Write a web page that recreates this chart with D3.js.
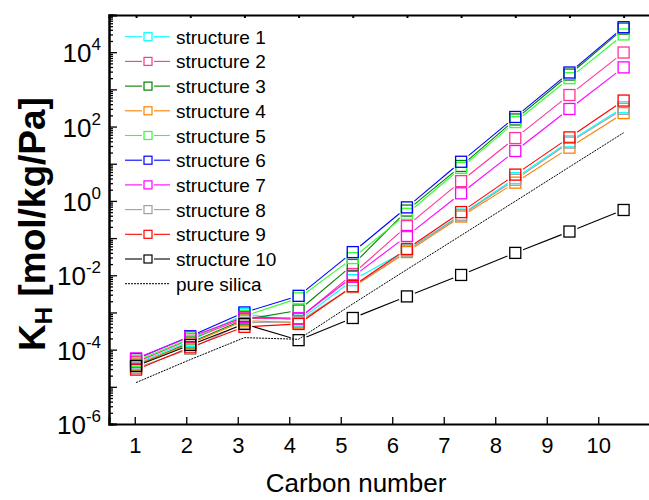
<!DOCTYPE html>
<html>
<head>
<meta charset="utf-8">
<script src="https://cdn.jsdelivr.net/npm/d3@7/dist/d3.min.js"></script>
<style>
  html, body { margin: 0; padding: 0; background: #fff; }
  svg { display: block; font-family: Arial, "Liberation Sans", sans-serif; }
</style>
</head>
<body>
<svg id="chart" width="649" height="500"></svg>
<script>
// ---------- data ----------
const categories = [1, 2, 3, 4, 5, 6, 7, 8, 9, 10];
const xTickLabels = ["1", "2", "3", "4", "5", "6", "7", "8", "9", "10"];
const yLabelExponents = [-6, -4, -2, 0, 2, 4];
const seriesNames = ["structure 1", "structure 2", "structure 3", "structure 4", "structure 5",
                     "structure 6", "structure 7", "structure 8", "structure 9", "structure 10"];
const seriesColors = ["#00ffff", "#ff3399", "#008000", "#ff8000", "#33ff33",
                      "#0000ff", "#ff00ff", "#a0a0a0", "#ff0000", "#000000"];
const structure1  = [4.2e-5, 1.7e-4, 9.0e-4, 6.0e-4, 7.4e-3, 0.047, 0.43, 4.1, 40, 330];
const structure2  = [4.6e-5, 1.9e-4, 7.0e-4, 6.7e-4, 1.08e-2, 0.21, 3.4, 49, 705, 9.8e3];
const structure3  = [3.8e-5, 1.55e-4, 6.5e-4, 1.13e-3, 1.9e-2, 0.55, 8.7, 155, 2.5e3, 4.3e4];
const structure4  = [4.0e-5, 1.45e-4, 6.0e-4, 5.3e-4, 4.8e-3, 0.042, 0.38, 3.1, 27, 230];
const structure5  = [5.0e-5, 2.0e-4, 8.0e-4, 2.4e-3, 2.9e-2, 0.45, 7.7, 132, 2.0e3, 3.0e4];
const structure6  = [5.6e-5, 2.3e-4, 1.0e-3, 2.8e-3, 4.2e-2, 0.67, 11.3, 181, 2.84e3, 4.7e4];
const structure7  = [5.8e-5, 2.2e-4, 7.5e-4, 7.0e-4, 9.1e-3, 0.114, 1.6, 22, 297, 3.9e3];
const structure8  = [3.2e-5, 1.05e-4, 5.3e-4, 5.6e-4, 5.0e-3, 0.046, 0.41, 3.7, 37, 300];
const structure9  = [2.9e-5, 1.15e-4, 4.1e-4, 4.9e-4, 5.1e-3, 0.051, 0.50, 5.1, 51, 500];
const structure10 = [3.6e-5, 1.33e-4, 4.9e-4, 1.8e-4, 7.1e-4, 2.7e-3, 1.02e-2, 0.04, 0.15, 0.57];
const pureSilica  = [1.3e-5, 5.4e-5, 2.1e-4, 1.9e-4, 1.7e-3, 1.43e-2, 0.118, 0.98, 8.2, 68];
const seriesValues = [structure1, structure2, structure3, structure4, structure5,
                      structure6, structure7, structure8, structure9, structure10];

// ---------- scales ----------
const svg = d3.select("#chart");
const x = d3.scaleLinear().domain([0.5, 10.5]).range([109, 650.7]);      // data / top axis
const xBottom = d3.scaleLinear().domain([0.5, 11]).range([109, 649.75]); // bottom labelled axis
const y = d3.scaleLog().domain([1e-6, 1e5]).range([424, 15]);

// ---------- series ----------
const markerSize = 11;
function gapSegments(vals) {
  const pts = vals.map((v, i) => [x(categories[i]), y(v)]);
  const segs = [];
  for (let i = 0; i < pts.length - 1; i++) {
    const [x0, y0] = pts[i], [x1, y1] = pts[i + 1];
    const dx = x1 - x0, dy = y1 - y0, len = Math.hypot(dx, dy);
    const ux = dx / len, uy = dy / len;
    const g = (markerSize / 2) / Math.max(Math.abs(ux), Math.abs(uy)) + 2.5;
    if (len > 2 * g) segs.push([x0 + ux * g, y0 + uy * g, x1 - ux * g, y1 - uy * g]);
  }
  return segs;
}

const plot = svg.append("g");
seriesValues.forEach((vals, si) => {
  const g = plot.append("g");
  g.selectAll("line").data(gapSegments(vals)).enter().append("line")
    .attr("x1", d => d[0]).attr("y1", d => d[1]).attr("x2", d => d[2]).attr("y2", d => d[3])
    .attr("stroke", seriesColors[si]).attr("stroke-width", 1.1);
  g.selectAll("rect").data(vals).enter().append("rect")
    .attr("x", (d, i) => x(categories[i]) - markerSize / 2)
    .attr("y", d => y(d) - markerSize / 2)
    .attr("width", markerSize).attr("height", markerSize)
    .attr("fill", "none").attr("stroke", seriesColors[si]).attr("stroke-width", 1.3);
});
plot.append("path")
  .datum(pureSilica)
  .attr("d", d3.line().x((d, i) => x(categories[i])).y(d => y(d)))
  .attr("fill", "none").attr("stroke", "#000").attr("stroke-width", 1)
  .attr("stroke-dasharray", "2,1");

// ---------- axes ----------
const minorVals = [];
for (let e = -6; e < 5; e++) for (let m = 2; m <= 9; m++) minorVals.push(m * Math.pow(10, e));
const majorVals = d3.range(-6, 6).map(e => Math.pow(10, e));

const yMinor = svg.append("g").attr("transform", "translate(109,0)")
  .call(d3.axisLeft(y).tickValues(minorVals).tickSize(-4).tickFormat(""));
const yMajor = svg.append("g").attr("transform", "translate(109,0)")
  .call(d3.axisLeft(y).tickValues(majorVals).tickSize(-8).tickFormat(""));
[yMinor, yMajor].forEach(a => {
  a.select(".domain").attr("stroke-width", 2);
  a.selectAll(".tick line").attr("stroke-width", 1.3);
});

const xAxisB = svg.append("g").attr("transform", "translate(0,424)")
  .call(d3.axisBottom(xBottom).tickValues(categories).tickSize(-7).tickPadding(13)
    .tickFormat((d, i) => xTickLabels[i]));
xAxisB.select(".domain").attr("stroke-width", 2);
xAxisB.selectAll(".tick line").attr("stroke-width", 1.3);
xAxisB.selectAll(".tick text").attr("font-size", 22).attr("font-family", "Arial, 'Liberation Sans', sans-serif").attr("fill", "#000");

const xAxisT = svg.append("g").attr("transform", "translate(0,15)")
  .call(d3.axisTop(x).tickValues(categories).tickSize(-3).tickFormat(""));
xAxisT.select(".domain").attr("stroke-width", 2);
xAxisT.selectAll(".tick line").attr("stroke-width", 2);

// y tick labels with superscripts
const yl = svg.append("g");
yLabelExponents.forEach(e => {
  const t = yl.append("text")
    .attr("x", 101).attr("y", y(Math.pow(10, e)) + 10)
    .attr("text-anchor", "end").attr("font-size", 26).attr("fill", "#000");
  t.append("tspan").text("10");
  t.append("tspan").attr("font-size", 17).attr("dy", -12).text(String(e));
});

// axis titles
svg.append("text")
  .attr("x", 356).attr("y", 492).attr("text-anchor", "middle")
  .attr("font-size", 26).attr("fill", "#000").text("Carbon number");

const yt = svg.append("text")
  .attr("transform", "translate(45,224) rotate(-90)")
  .attr("text-anchor", "middle").attr("font-size", 37).attr("font-weight", "bold").attr("fill", "#000");
yt.append("tspan").text("K");
yt.append("tspan").attr("font-size", 24).attr("dy", 7).text("H");
yt.append("tspan").attr("dy", -7).text(" [mol/kg/Pa]");

// ---------- legend ----------
const legendRows = seriesNames.concat(["pure silica"]);
const leg = svg.append("g");
legendRows.forEach((name, i) => {
  const cy = 36.7 + i * 24.7;
  const g = leg.append("g");
  if (i < seriesNames.length) {
    g.append("line").attr("x1", 125).attr("x2", 142).attr("y1", cy).attr("y2", cy)
      .attr("stroke", seriesColors[i]).attr("stroke-width", 1.1);
    g.append("line").attr("x1", 154).attr("x2", 170).attr("y1", cy).attr("y2", cy)
      .attr("stroke", seriesColors[i]).attr("stroke-width", 1.1);
    g.append("rect").attr("x", 144).attr("y", cy - 4).attr("width", 8).attr("height", 8)
      .attr("fill", "none").attr("stroke", seriesColors[i]).attr("stroke-width", 1.2);
  } else {
    g.append("line").attr("x1", 125).attr("x2", 170).attr("y1", cy).attr("y2", cy)
      .attr("stroke", "#000").attr("stroke-width", 1).attr("stroke-dasharray", "2,1");
  }
  g.append("text").attr("x", 176).attr("y", cy + 7).attr("font-size", 19).attr("fill", "#000").text(name);
});
</script>
</body>
</html>
